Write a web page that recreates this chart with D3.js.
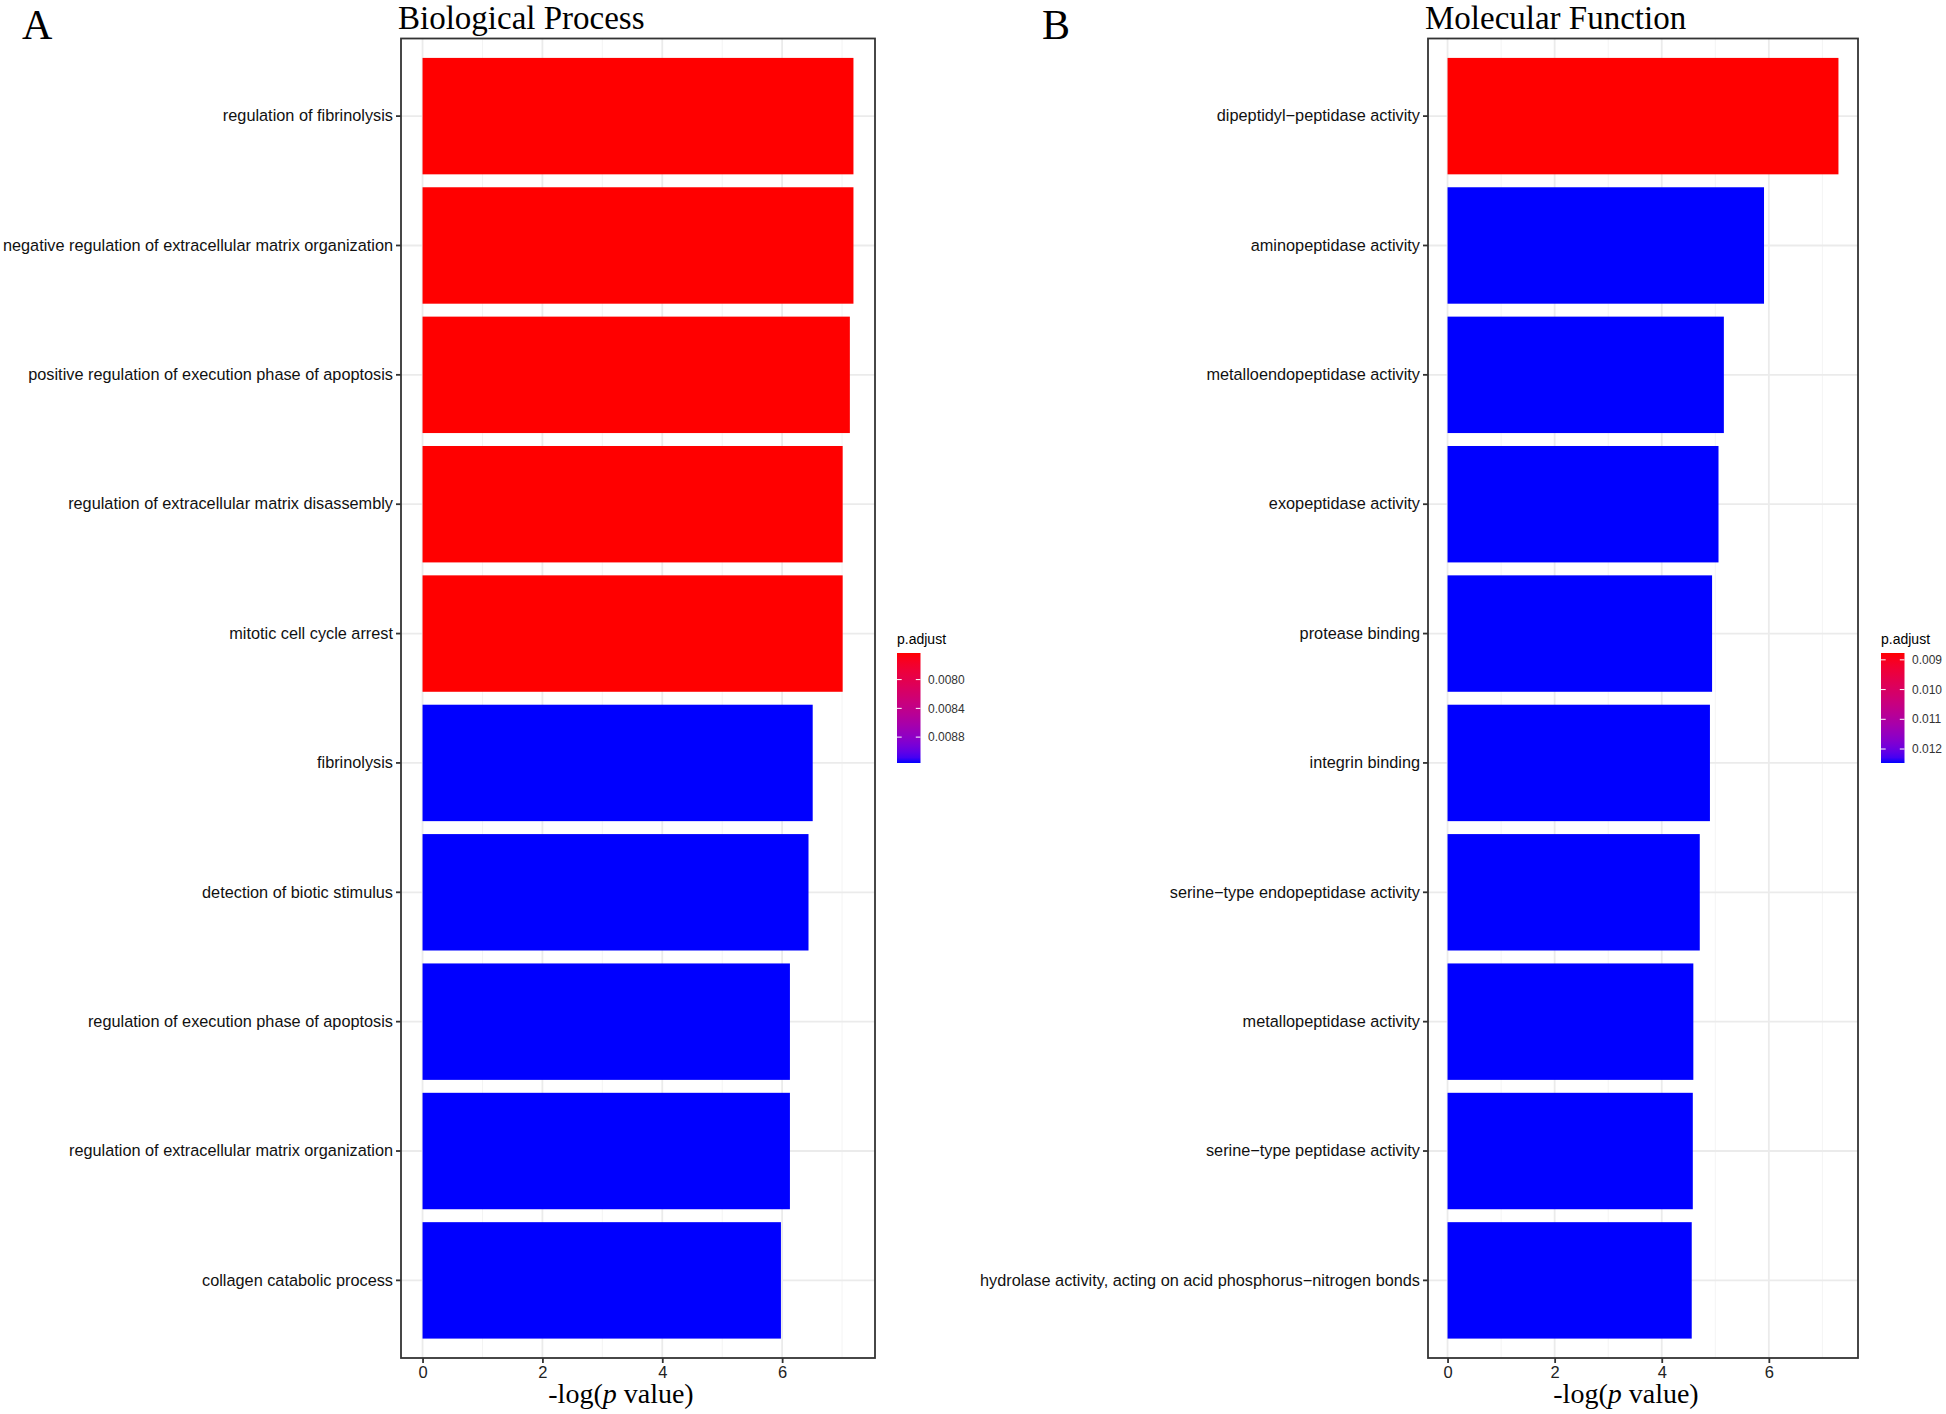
<!DOCTYPE html>
<html>
<head>
<meta charset="utf-8">
<script src="https://cdn.jsdelivr.net/npm/d3@7"></script>
<style>
  html, body { margin: 0; padding: 0; background: #fff; }
  svg { display: block; }
</style>
</head>
<body>
<svg id="chart" width="1946" height="1414"></svg>
<script>
// ---------------- DATA ----------------
const bpTerms = [
  "regulation of fibrinolysis",
  "negative regulation of extracellular matrix organization",
  "positive regulation of execution phase of apoptosis",
  "regulation of extracellular matrix disassembly",
  "mitotic cell cycle arrest",
  "fibrinolysis",
  "detection of biotic stimulus",
  "regulation of execution phase of apoptosis",
  "regulation of extracellular matrix organization",
  "collagen catabolic process"
];
const bpValues = [7.19, 7.19, 7.13, 7.01, 7.01, 6.51, 6.44, 6.13, 6.13, 5.98];
const bpPadjust = [0.00763, 0.00763, 0.00763, 0.00763, 0.00763, 0.00916, 0.00916, 0.00916, 0.00916, 0.00916];

const mfTerms = [
  "dipeptidyl\u2212peptidase activity",
  "aminopeptidase activity",
  "metalloendopeptidase activity",
  "exopeptidase activity",
  "protease binding",
  "integrin binding",
  "serine\u2212type endopeptidase activity",
  "metallopeptidase activity",
  "serine\u2212type peptidase activity",
  "hydrolase activity, acting on acid phosphorus\u2212nitrogen bonds"
];
const mfValues = [7.30, 5.91, 5.16, 5.06, 4.94, 4.90, 4.71, 4.59, 4.58, 4.56];
const mfPadjust = [0.00877, 0.01247, 0.01247, 0.01247, 0.01247, 0.01247, 0.01247, 0.01247, 0.01247, 0.01247];

const xTicks = [0, 2, 4, 6];
const xMinorTicks = [1, 3, 5, 7];
const bpLegendTicks = [0.0080, 0.0084, 0.0088];
const mfLegendTicks = [0.009, 0.010, 0.011, 0.012];

const panelTitles = ["Biological Process", "Molecular Function"];
const panelLetters = ["A", "B"];
const legendTitle = "p.adjust";

// ---------------- DRAW ----------------
const svg = d3.select("#chart");
svg.append("rect").attr("width", 1946).attr("height", 1414).attr("fill", "#fff");

const SANS = "'Liberation Sans', Arial, Helvetica, sans-serif";
const SERIF = "'Liberation Serif', 'Times New Roman', Times, serif";

function drawPanel(cfg) {
  const g = svg.append("g");
  const top = 38.5, bottom = 1358;
  const maxV = d3.max(cfg.values);
  const x = d3.scaleLinear()
    .domain([-0.05 * maxV, 1.05 * maxV])
    .range([cfg.left, cfg.right]);
  const y = d3.scaleBand()
    .domain(cfg.terms)
    .range([top, bottom])
    .paddingInner(0.1)
    .paddingOuter(0.15)
    .align(0.5);

  const ext = d3.extent(cfg.padj);
  const color = d3.scaleLinear().domain(ext).range(["#FF0000", "#0000FF"]).interpolate(d3.interpolateLab);

  // grid: minor vertical
  g.selectAll(".minor").data(cfg.minorTicks.filter(t => x(t) < cfg.right)).enter().append("line")
    .attr("x1", d => x(d)).attr("x2", d => x(d))
    .attr("y1", top).attr("y2", bottom)
    .attr("stroke", "#F4F4F4").attr("stroke-width", 1);
  // major vertical
  g.selectAll(".major").data(cfg.ticks).enter().append("line")
    .attr("x1", d => x(d)).attr("x2", d => x(d))
    .attr("y1", top).attr("y2", bottom)
    .attr("stroke", "#EBEBEB").attr("stroke-width", 1.8);
  // major horizontal
  g.selectAll(".hmajor").data(cfg.terms).enter().append("line")
    .attr("x1", cfg.left).attr("x2", cfg.right)
    .attr("y1", d => y(d) + y.bandwidth() / 2).attr("y2", d => y(d) + y.bandwidth() / 2)
    .attr("stroke", "#EBEBEB").attr("stroke-width", 1.8);

  // bars
  g.selectAll(".bar").data(cfg.terms).enter().append("rect")
    .attr("x", x(0))
    .attr("y", d => y(d))
    .attr("width", (d, i) => x(cfg.values[i]) - x(0))
    .attr("height", y.bandwidth())
    .attr("fill", (d, i) => color(cfg.padj[i]));

  // panel border
  g.append("rect")
    .attr("x", cfg.left).attr("y", top)
    .attr("width", cfg.right - cfg.left).attr("height", bottom - top)
    .attr("fill", "none").attr("stroke", "#333333").attr("stroke-width", 1.8);

  // x axis
  const xAxis = d3.axisBottom(x).tickValues(cfg.ticks).tickSize(5).tickPadding(3).tickFormat(d3.format("d"));
  const xa = g.append("g").attr("transform", `translate(0,${bottom})`).call(xAxis);
  xa.select(".domain").remove();
  xa.selectAll(".tick line").attr("stroke", "#333333").attr("stroke-width", 1.8);
  xa.selectAll(".tick text").attr("font-family", SANS).attr("font-size", 16.5).attr("fill", "#222");

  // y axis
  const yAxis = d3.axisLeft(y).tickSize(5).tickPadding(3);
  const ya = g.append("g").attr("transform", `translate(${cfg.left},0)`).call(yAxis);
  ya.select(".domain").remove();
  ya.selectAll(".tick line").attr("stroke", "#333333").attr("stroke-width", 1.8);
  ya.selectAll(".tick text").attr("font-family", SANS).attr("font-size", 16.3).attr("fill", "#111");

  // axis title
  const at = g.append("text")
    .attr("x", (cfg.left + cfg.right) / 2 - 17).attr("y", 1403)
    .attr("text-anchor", "middle")
    .attr("font-family", SERIF).attr("font-size", 28).attr("fill", "#000");
  at.append("tspan").text("-log(");
  at.append("tspan").attr("font-style", "italic").text("p");
  at.append("tspan").text(" value)");

  // panel title
  g.append("text")
    .attr("x", cfg.left - 3).attr("y", 28.5)
    .attr("font-family", SERIF).attr("font-size", 33).attr("fill", "#000")
    .text(cfg.title);

  // panel letter
  g.append("text")
    .attr("x", cfg.letterX).attr("y", 39)
    .attr("font-family", SERIF).attr("font-size", 42).attr("fill", "#000")
    .text(cfg.letter);

  // legend
  const lg = g.append("g");
  const lx0 = cfg.legendX, lw = 23.5, ly0 = 653, ly1 = 763;
  const ly = d3.scaleLinear().domain(ext).range([ly0, ly1]);
  const gradId = "grad" + cfg.letter;
  const grad = svg.append("defs").append("linearGradient")
    .attr("id", gradId).attr("x1", 0).attr("y1", 0).attr("x2", 0).attr("y2", 1);
  d3.range(0, 1.0001, 0.05).forEach(t => {
    grad.append("stop").attr("offset", t)
      .attr("stop-color", color(ext[0] + t * (ext[1] - ext[0])));
  });
  lg.append("rect").attr("x", lx0).attr("y", ly0).attr("width", lw).attr("height", ly1 - ly0)
    .attr("fill", `url(#${gradId})`);
  lg.selectAll(".lt1").data(cfg.legendTicks).enter().append("line")
    .attr("x1", lx0).attr("x2", lx0 + lw / 5)
    .attr("y1", d => ly(d)).attr("y2", d => ly(d))
    .attr("stroke", "#fff").attr("stroke-width", 1);
  lg.selectAll(".lt2").data(cfg.legendTicks).enter().append("line")
    .attr("x1", lx0 + lw - lw / 5).attr("x2", lx0 + lw)
    .attr("y1", d => ly(d)).attr("y2", d => ly(d))
    .attr("stroke", "#fff").attr("stroke-width", 1);
  lg.selectAll(".ltx").data(cfg.legendTicks).enter().append("text")
    .attr("x", lx0 + lw + 7.5).attr("y", d => ly(d)).attr("dy", "0.35em")
    .attr("font-family", SANS).attr("font-size", 12).attr("fill", "#333")
    .text(d => d3.format(cfg.legendFmt)(d));
  lg.append("text").attr("x", lx0).attr("y", 644)
    .attr("font-family", SANS).attr("font-size", 14).attr("fill", "#000")
    .text(legendTitle);
}

drawPanel({
  terms: bpTerms, values: bpValues, padj: bpPadjust,
  left: 401, right: 875, ticks: xTicks, minorTicks: xMinorTicks,
  title: panelTitles[0], letter: panelLetters[0], letterX: 22,
  legendX: 897, legendTicks: bpLegendTicks, legendFmt: ".4f"
});
drawPanel({
  terms: mfTerms, values: mfValues, padj: mfPadjust,
  left: 1428, right: 1858, ticks: xTicks, minorTicks: xMinorTicks,
  title: panelTitles[1], letter: panelLetters[1], letterX: 1042,
  legendX: 1881, legendTicks: mfLegendTicks, legendFmt: ".3f"
});
</script>
</body>
</html>
